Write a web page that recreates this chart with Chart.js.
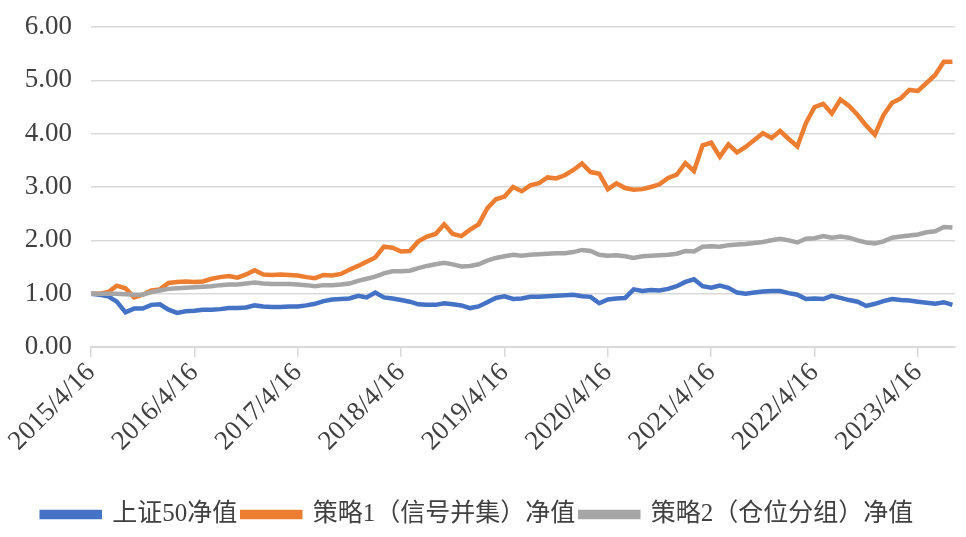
<!DOCTYPE html>
<html>
<head>
<meta charset="utf-8">
<script src="https://cdn.jsdelivr.net/npm/chart.js@4.4.0/dist/chart.umd.min.js"></script>
<style>
  html, body { margin: 0; padding: 0; background: #ffffff; }
  #wrap { width: 966px; height: 537px; }
</style>
</head>
<body>
<div id="wrap"><canvas id="c" width="966" height="537"></canvas></div>
<script>
// Tick labels (one per year, every 12 monthly samples)
const tickLabels = ['2015/4/16','2016/4/16','2017/4/16','2018/4/16','2019/4/16','2020/4/16','2021/4/16','2022/4/16','2023/4/16'];
const seriesNames = ['上证50净值','策略1（信号并集）净值','策略2（仓位分组）净值'];

// Monthly samples, starting 2015/4/16
const sz50 = [1.00,0.98,0.95,0.85,0.65,0.72,0.72,0.79,0.80,0.70,
  0.64,0.67,0.68,0.70,0.70,0.71,0.73,0.73,0.74,0.78,
  0.76,0.75,0.75,0.76,0.76,0.78,0.81,0.86,0.89,0.90,
  0.91,0.96,0.93,1.02,0.93,0.91,0.88,0.85,0.80,0.79,
  0.79,0.82,0.80,0.78,0.73,0.76,0.84,0.92,0.95,0.90,
  0.91,0.94,0.94,0.95,0.96,0.97,0.98,0.95,0.94,0.82,
  0.89,0.91,0.92,1.08,1.05,1.07,1.06,1.09,1.14,1.22,
  1.27,1.14,1.11,1.15,1.11,1.02,1.00,1.02,1.04,1.05,
  1.05,1.01,0.98,0.90,0.91,0.90,0.96,0.92,0.88,0.85,
  0.77,0.81,0.86,0.90,0.88,0.87,0.85,0.83,0.81,0.84,
  0.79];
const strat1 = [1.00,1.00,1.03,1.15,1.10,0.93,0.98,1.06,1.08,1.20,
  1.22,1.23,1.22,1.23,1.28,1.31,1.33,1.30,1.36,1.44,
  1.36,1.35,1.36,1.35,1.34,1.31,1.29,1.35,1.34,1.37,
  1.45,1.52,1.60,1.68,1.88,1.86,1.79,1.80,1.98,2.07,
  2.12,2.30,2.12,2.08,2.20,2.30,2.60,2.77,2.82,3.00,
  2.92,3.03,3.07,3.18,3.16,3.22,3.32,3.44,3.28,3.25,
  2.96,3.07,2.98,2.95,2.96,3.00,3.05,3.17,3.23,3.45,
  3.30,3.78,3.83,3.57,3.80,3.65,3.75,3.88,4.01,3.92,
  4.05,3.90,3.76,4.20,4.50,4.56,4.38,4.64,4.52,4.35,
  4.15,3.98,4.35,4.58,4.66,4.82,4.80,4.95,5.10,5.35,
  5.35];
const strat2 = [1.00,1.00,1.00,1.00,0.99,0.98,0.98,1.03,1.06,1.09,
  1.10,1.11,1.12,1.13,1.14,1.16,1.17,1.17,1.19,1.21,
  1.19,1.18,1.18,1.18,1.17,1.16,1.14,1.16,1.16,1.17,
  1.19,1.24,1.28,1.32,1.38,1.42,1.42,1.43,1.48,1.52,
  1.55,1.58,1.55,1.51,1.52,1.55,1.62,1.67,1.70,1.73,
  1.71,1.73,1.74,1.75,1.76,1.76,1.78,1.82,1.80,1.73,
  1.71,1.72,1.70,1.67,1.70,1.71,1.72,1.73,1.75,1.80,
  1.79,1.88,1.89,1.88,1.91,1.92,1.93,1.95,1.97,2.00,
  2.03,2.00,1.96,2.03,2.04,2.08,2.05,2.07,2.05,2.00,
  1.96,1.94,1.98,2.05,2.07,2.09,2.11,2.15,2.17,2.25,
  2.24];
const yTicks = [0,1,2,3,4,5,6];

const colors = ['#4472C4','#ED7D31','#A5A5A5'];
const fontFam = '"Liberation Serif", "Times New Roman", "Noto Sans CJK SC", serif';
const textColor = '#404040';
const gridColor = '#D9D9D9';

function toPts(arr){ return arr.map((v,i)=>({x:i, y:v})); }

const datasets = [sz50, strat1, strat2].map((arr, k) => ({
  label: seriesNames[k],
  data: toPts(arr),
  borderColor: colors[k],
  backgroundColor: colors[k],
  borderWidth: 4.5,
  pointRadius: 0,
  tension: 0,
  order: 3 - k
}));

new Chart(document.getElementById('c'), {
  type: 'line',
  data: { datasets },
  options: {
    responsive: false,
    animation: false,
    layout: { padding: { left: 0, right: 11, top: 27, bottom: 0 } },
    plugins: {
      tooltip: { enabled: false },
      legend: {
        position: 'bottom',
        labels: {
          boxWidth: 58,
          boxHeight: 5,
          padding: 5,
          color: textColor,
          font: { family: fontFam, size: 25 },
          sort: (a, b) => a.datasetIndex - b.datasetIndex
        }
      }
    },
    scales: {
      x: {
        type: 'linear',
        min: 0,
        max: 100.3,
        afterBuildTicks: (s) => { s.ticks = tickLabels.map((t, i) => ({ value: i * 12 })); },
        afterFit: (s) => { s.height = 150; },
        ticks: {
          maxRotation: 45,
          minRotation: 45,
          autoSkip: false,
          padding: 0,
          color: textColor,
          font: { family: fontFam, size: 27 },
          callback: (v) => tickLabels[Math.round(v / 12)]
        },
        grid: { drawOnChartArea: false, drawTicks: true, tickLength: 10, color: gridColor, lineWidth: 1.5 },
        border: { display: true, color: gridColor, width: 2 }
      },
      y: {
        min: 0,
        max: 6,
        afterBuildTicks: (s) => { s.ticks = yTicks.map(v => ({ value: v })); },
        afterFit: (s) => { s.width = 91; },
        ticks: {
          padding: 2,
          color: textColor,
          font: { family: fontFam, size: 27 },
          callback: (v) => Number(v).toFixed(2)
        },
        grid: { drawTicks: true, tickLength: 17, tickColor: 'rgba(0,0,0,0)', color: gridColor, lineWidth: 1.5 },
        border: { display: false }
      }
    }
  }
});
</script>
</body>
</html>
